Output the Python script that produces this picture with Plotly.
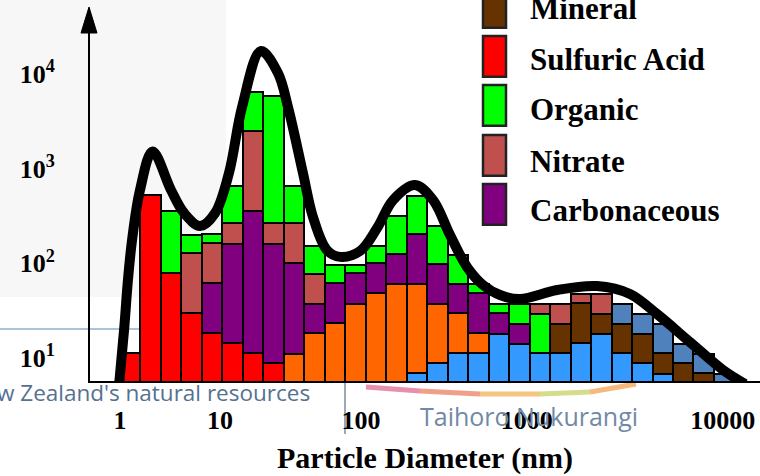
import plotly.graph_objects as go

# ---------------- data ----------------
N = None
BINS = list(range(30))  # size bins (equal width on the schematic axis)

# level reached by each component in the stacked column of each bin
sulfuric_acid = [11.2, 528, 78.4, 29.6, 18.2, 14.3, 11.2, 8.77] + [N] * 22
organic = [N, N, 357.5, 199.4, 204, 662, 6438, 5883, 662, 153.6, 96, 96, 153.6,
           319, 519, 250, 122, 60, 37.1, 37.1, 29.1] + [N] * 9
nitrate = [N, N, N, 127.6, 162.8, 265, 2527, 265, 270, 77.1] + [N] * 10 + \
          [37.1, 37.1, 47.0, 47.0] + [N] * 6
carbonaceous = [N, N, N, N, 61.5, 160, 357.5, 160, 100, 37.1, 61.5, 78.4, 100,
                125.5, 202.8, 98.4, 60, 48.2, 29.5, 22.8] + [N] * 10
mineral = [N] * 21 + [22.8, 37.8, 29.1, 22.8, 17.9, 11.2, 8.77, 6.87] + [N]
orange_comp = [N] * 8 + [11.0, 18.2, 23.2, 37.1, 48.2, 60.4, 60.4, 37.1, 29.6, 18.2] + [N] * 12
blue_comp = [N] * 14 + [6.97, 8.77, 11.2, 11.2, 17.8, 13.9, 11.2, 11.2, 14.3, 17.8,
                        11.2, 8.77, 6.76] + [N] * 3
steel_comp = [N] * 24 + [37.1, 29.1, 22.8, 13.9, 11.0, 6.76]

# envelope curve (bin units, value)
curve_x = [-0.54, -0.29, -0.10, 0.10, 0.49, 1.10, 2.00, 2.64, 3.42, 4.15, 4.83, 5.47,
           6.39, 7.22, 7.71, 8.44, 8.93, 9.61, 10.25, 11.23, 12.06, 12.84, 13.91,
           14.79, 15.62, 16.45, 17.23, 18.06, 19.03, 20.84, 22.79, 24.40, 25.72,
           27.33, 28.94, 30.02]
curve_y = [5.0, 19.7, 66.6, 176, 597, 1523, 597, 340, 248, 340, 902, 4500, 17600,
           10300, 4500, 902, 309, 138, 117, 135, 236, 467, 673, 467, 199, 91.4, 59.0,
           46.2, 41.9, 52.2, 57.5, 47.4, 29.1, 14.7, 7.45, 5.3]

x_tick_labels = ["1", "10", "100", "1000", "10000"]
x_tick_at = [-0.488, 4.392, 11.274, 19.36, 28.93]
y_tick_vals = [10, 100, 1000, 10000]
y_tick_labels = ["10<sup>1</sup>", "10<sup>2</sup>", "10<sup>3</sup>", "10<sup>4</sup>"]

series = [
    ("Sulfuric Acid", sulfuric_acid, "#FF0000"),
    ("Organic", organic, "#00FF00"),
    ("Nitrate", nitrate, "#C0504D"),
    ("Carbonaceous", carbonaceous, "#800080"),
    ("Mineral", mineral, "#663300"),
    ("Component (orange)", orange_comp, "#FF6600"),
    ("Component (light blue)", blue_comp, "#3399FF"),
    ("Component (steel blue)", steel_comp, "#4F81BD"),
]
legend_items = ["Mineral", "Sulfuric Acid", "Organic", "Nitrate", "Carbonaceous"]
colors = {name: c for name, _, c in series}

FLOOR = 1.0  # below the visible axis range

# ---------------- figure ----------------
W, H = 760, 476
L, R, T, B = 90, 0, 8, 95
pw, ph = W - L - R, H - T - B


def fx(px):
    return (px - L) / pw


def fy(py):
    return (H - B - py) / ph


fig = go.Figure()

fig.add_trace(go.Scatter(
    x=curve_x, y=curve_y, mode="lines", line=dict(color="black", width=10, shape="spline"),
    showlegend=False, hoverinfo="skip", name="Total"))

for name, tops, color in series:
    xs, hs, bs = [], [], []
    for i, t in enumerate(tops):
        if t is None:
            continue
        below = [s[1][i] for s in series if s[1][i] is not None and s[1][i] < t]
        base = max(below) if below else FLOOR
        xs.append(BINS[i])
        bs.append(base)
        hs.append(t - base)
    fig.add_trace(go.Bar(
        x=xs, y=hs, base=bs, name=name, width=1.0,
        marker=dict(color=color, line=dict(color="black", width=2)),
        showlegend=False))

shapes = []
annotations = []

# background watermark remnants
shapes.append(dict(type="rect", xref="paper", yref="paper", x0=fx(0), x1=fx(226),
                   y0=fy(297), y1=fy(0), fillcolor="#f7f7f7", line=dict(width=0), layer="below"))
shapes.append(dict(type="line", xref="paper", yref="paper", x0=fx(0), x1=fx(150),
                   y0=fy(329), y1=fy(329), line=dict(color="#8fb0cf", width=1.5), layer="below"))
shapes.append(dict(type="line", xref="paper", yref="paper", x0=fx(345), x1=fx(345),
                   y0=fy(383), y1=fy(434), line=dict(color="#9aa8b8", width=2), layer="below"))
swoosh = [((366, 387), (420, 391), "#d9457a"), ((420, 391), (480, 394), "#e8603a"),
          ((480, 394), (540, 394), "#f0a030"), ((540, 394), (590, 392), "#b9c840"),
          ((590, 392), (636, 384), "#f08a2a")]
for (x0, y0), (x1, y1), c in swoosh:
    shapes.append(dict(type="line", xref="paper", yref="paper", x0=fx(x0), x1=fx(x1),
                       y0=fy(y0), y1=fy(y1), line=dict(color=c, width=5), opacity=0.6,
                       layer="below"))
annotations.append(dict(xref="paper", yref="paper", x=fx(312), y=fy(392), xanchor="right",
                        yanchor="middle", showarrow=False, text="w Zealand's natural resources",
                        font=dict(family="Open Sans", size=22.5, color="#55718f")))
annotations.append(dict(xref="paper", yref="paper", x=fx(529), y=fy(416), xanchor="center",
                        yanchor="middle", showarrow=False, text="Taihoro Nukurangi",
                        font=dict(family="Open Sans", size=25, color="#7189a6")))

# arrow head on the y axis
shapes.append(dict(type="path", xref="paper", yref="paper",
                   path=f"M {fx(89)} {fy(7)} L {fx(81)} {fy(33)} L {fx(97)} {fy(33)} Z",
                   fillcolor="black", line=dict(color="black", width=1)))

# legend drawn as tall swatches
sw_tops = [-13, 36, 85, 135, 184]
base_lines = [18, 70, 120, 171.7, 220]
for name, top, bl in zip(legend_items, sw_tops, base_lines):
    shapes.append(dict(type="rect", xref="paper", yref="paper", x0=fx(483), x1=fx(506),
                       y0=fy(top + 40.7), y1=fy(top), fillcolor=colors[name],
                       line=dict(color="#222222", width=2.5)))
    annotations.append(dict(xref="paper", yref="paper", x=fx(528), y=fy(bl - 10),
                            xanchor="left", yanchor="middle", showarrow=False, text=name,
                            font=dict(family="Liberation Serif", size=31, color="black",
                                      weight="bold")))

fig.update_layout(
    width=W, height=H, autosize=False,
    margin=dict(l=L, r=R, t=T, b=B, autoexpand=False),
    paper_bgcolor="white", plot_bgcolor="rgba(0,0,0,0)",
    barmode="overlay", bargap=0,
    showlegend=False,
    shapes=shapes, annotations=annotations,
    xaxis=dict(range=[(L - 130) / 20.49, (W - R - 130) / 20.49], showgrid=False,
               zeroline=False, showline=True, linecolor="black", linewidth=2,
               tickvals=x_tick_at, ticktext=x_tick_labels, ticks="",
               ticklabelstandoff=15,
               tickfont=dict(family="Liberation Serif", size=26, color="black", weight="bold"),
               title=dict(text="Particle Diameter (nm)", standoff=13,
                          font=dict(family="Liberation Serif", size=30, color="black",
                                    weight="bold"))),
    yaxis=dict(type="log", range=[0.7556, 4.7002], showgrid=False, zeroline=False,
               showline=True, linecolor="black", linewidth=2,
               tickvals=y_tick_vals, ticktext=y_tick_labels, ticks="",
               ticklabelstandoff=28,
               tickfont=dict(family="Liberation Serif", size=26, color="black", weight="bold")),
)

fig.write_html("out.html", config={"displayModeBar": False},
               post_script="document.body.style.margin='0px';document.body.style.overflow='hidden';")
